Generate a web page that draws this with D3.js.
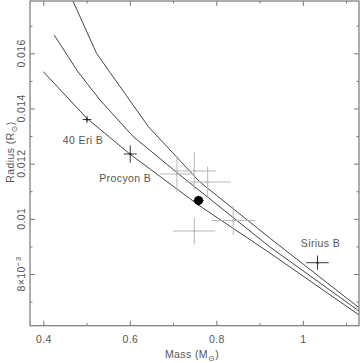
<!DOCTYPE html>
<html>
<head>
<meta charset="utf-8">
<script src="https://cdn.jsdelivr.net/npm/d3@7"></script>
<style>
  body { margin: 0; background: #fff; }
  text { font-family: "Liberation Sans", Arial, "DejaVu Sans", sans-serif; fill: #555; }
</style>
</head>
<body>
<script>
// mass-radius relation, white dwarfs

// model curves (mass in Msun, radius in Rsun)
let curveTopMass = [0.450, 0.523, 0.643, 0.762, 0.924, 1.130]
let curveTopRadius = [0.01854, 0.01600, 0.01334, 0.011335, 0.00930, 0.006778]
let curveMidMass = [0.425, 0.480, 0.531, 0.608, 0.716, 0.924, 1.130]
let curveMidRadius = [0.016665, 0.015334, 0.014308, 0.012978, 0.011589, 0.008979, 0.006659]
let curveLowMass = [0.400, 0.501, 0.600, 0.762, 0.924, 1.130]
let curveLowRadius = [0.015334, 0.013637, 0.012351, 0.010465, 0.008761, 0.006514]

// labelled stars
let starNames = ['40 Eri B', 'Procyon B', 'Sirius B']
let starMass = [0.501, 0.601, 1.034]
let starMassErr = [0.010, 0.015, 0.026]
let starRadius = [0.01360, 0.01235, 0.00841]
let starRadiusErr = [0.00013, 0.00031, 0.00026]

// new measurement (big dot)
let newMass = [0.759]
let newMassErr = [0.012]
let newRadius = [0.01066]
let newRadiusErr = [0.00018]

// other (grey) stars
let otherMass = [0.709, 0.749, 0.780, 0.839, 0.749]
let otherMassErr = [0.039, 0.051, 0.053, 0.050, 0.049]
let otherRadius = [0.011625, 0.011734, 0.011335, 0.00994, 0.00956]
let otherRadiusErr = [0.00065, 0.00068, 0.00056, 0.00053, 0.00049]

// ticks
let xTicks = [0.4, 0.5, 0.6, 0.7, 0.8, 0.9, 1.0, 1.1]
let xLabelled = [0.4, 0.6, 0.8, 1.0]
let yTicks = [0.007, 0.008, 0.009, 0.010, 0.011, 0.012, 0.013, 0.014, 0.015, 0.016, 0.017]
let yLabelled = [0.008, 0.010, 0.012, 0.014, 0.016]

let W = 360
let H = 363
let pLeft = 30, pRight = 359, pTop = 1, pBottom = 325.7

let svg = d3.select('body').append('svg')
  .attr('width', W)
  .attr('height', H)

let x = d3.scaleLinear().domain([0.3692, 1.1300]).range([pLeft, pRight])
let y = d3.scaleLinear().domain([0.006126, 0.017896]).range([pBottom, pTop])

svg.append('clipPath').attr('id', 'clip')
  .append('rect')
  .attr('x', pLeft).attr('y', pTop)
  .attr('width', pRight - pLeft).attr('height', pBottom - pTop)

let plot = svg.append('g').attr('clip-path', 'url(#clip)')

// curves
let line = d3.line().x(d => x(d[0])).y(d => y(d[1]))
let curves = [
  d3.zip(curveTopMass, curveTopRadius),
  d3.zip(curveMidMass, curveMidRadius),
  d3.zip(curveLowMass, curveLowRadius)
]
plot.selectAll('.curve')
  .data(curves)
  .enter().append('path')
  .attr('class', 'curve')
  .attr('d', line)
  .attr('fill', 'none')
  .attr('stroke', '#444')
  .attr('stroke-width', 1)

// error bar crosses
function crosses (g, ms, me, rs, re, color, width) {
  let data = ms.map((m, i) => ({ m: m, me: me[i], r: rs[i], re: re[i] }))
  let sel = g.append('g').selectAll('g').data(data).enter().append('g')
  sel.append('line')
    .attr('x1', d => x(d.m - d.me)).attr('x2', d => x(d.m + d.me))
    .attr('y1', d => y(d.r)).attr('y2', d => y(d.r))
    .attr('stroke', color).attr('stroke-width', width)
  sel.append('line')
    .attr('x1', d => x(d.m)).attr('x2', d => x(d.m))
    .attr('y1', d => y(d.r - d.re)).attr('y2', d => y(d.r + d.re))
    .attr('stroke', color).attr('stroke-width', width)
  sel.append('circle')
    .attr('cx', d => x(d.m)).attr('cy', d => y(d.r))
    .attr('r', 1.2)
    .attr('fill', color)
  return sel
}

crosses(plot, otherMass, otherMassErr, otherRadius, otherRadiusErr, '#b8b8b8', 1)
crosses(plot, starMass, starMassErr, starRadius, starRadiusErr, '#222', 0.9)
crosses(plot, newMass, newMassErr, newRadius, newRadiusErr, '#222', 0.9)
plot.append('g').selectAll('circle')
  .data(newMass)
  .enter().append('circle')
  .attr('cx', d => x(d))
  .attr('cy', (d, i) => y(newRadius[i]))
  .attr('r', 4.6)
  .attr('fill', '#000')

// star labels
let labelOffsets = [[-4, 24], [-5, 28], [3, -16]]
svg.append('g').selectAll('text')
  .data(starNames)
  .enter().append('text')
  .attr('x', (d, i) => x(starMass[i]) + labelOffsets[i][0])
  .attr('y', (d, i) => y(starRadius[i]) + labelOffsets[i][1])
  .attr('text-anchor', 'middle')
  .attr('font-size', 10.5)
  .attr('letter-spacing', 0.4)
  .text(d => d)

// axes (ticks pointing inward, mirrored on top/right)
let axisColor = '#777'
function styleAxis (g, labelled, minorLen, dir) {
  g.select('.domain').remove()
  g.selectAll('.tick line').attr('stroke', axisColor)
    .each(function (d) {
      if (labelled.indexOf(d) < 0) {
        let el = d3.select(this)
        if (dir === 'x') el.attr('y2', minorLen)
        else el.attr('x2', minorLen)
      }
    })
}

let fmtX = d => xLabelled.indexOf(d) >= 0 ? d3.format('~g')(d) : ''
let gB = svg.append('g').attr('transform', 'translate(0,' + pBottom + ')')
  .call(d3.axisBottom(x).tickValues(xTicks).tickSize(-5).tickPadding(10).tickFormat(fmtX))
styleAxis(gB, xLabelled, -2.5, 'x')
gB.selectAll('text').attr('font-size', 10.5).attr('fill', '#555').attr('font-family', null).attr('letter-spacing', 0.4)

let gT = svg.append('g').attr('transform', 'translate(0,' + pTop + ')')
  .call(d3.axisTop(x).tickValues(xTicks).tickSize(-5).tickFormat(''))
styleAxis(gT, xLabelled, 2.5, 'x')

let gL = svg.append('g').attr('transform', 'translate(' + pLeft + ',0)')
  .call(d3.axisLeft(y).tickValues(yTicks).tickSize(-5).tickFormat(''))
styleAxis(gL, yLabelled, 2.5, 'y')

let gR = svg.append('g').attr('transform', 'translate(' + pRight + ',0)')
  .call(d3.axisRight(y).tickValues(yTicks).tickSize(-5).tickFormat(''))
styleAxis(gR, yLabelled, -2.5, 'y')

// rotated y tick labels
let yLab = svg.append('g').selectAll('text')
  .data(yLabelled)
  .enter().append('text')
  .attr('transform', d => 'translate(' + (pLeft - 5.5) + ',' + y(d) + ') rotate(-90)')
  .attr('text-anchor', 'middle')
  .attr('font-size', 10.5)
  .attr('letter-spacing', 0.4)
yLab.each(function (d) {
  let t = d3.select(this)
  if (d < 0.009) {
    t.append('tspan').text('8×10')
    t.append('tspan').attr('dy', -4).attr('font-size', 8).text('−3')
  } else {
    t.text(d3.format('~g')(d))
  }
})

// frame
svg.append('rect')
  .attr('x', pLeft).attr('y', pTop)
  .attr('width', pRight - pLeft).attr('height', pBottom - pTop)
  .attr('fill', 'none')
  .attr('stroke', axisColor)
  .attr('stroke-width', 1.2)

// axis titles
let xt = svg.append('text')
  .attr('x', 192).attr('y', 358)
  .attr('text-anchor', 'middle')
  .attr('font-size', 10.5)
  .attr('letter-spacing', 0.4)
xt.append('tspan').text('Mass (M')
xt.append('tspan').attr('dy', 2.5).attr('font-size', 8).text('⊙')
xt.append('tspan').attr('dy', -2.5).text(')')

let yt = svg.append('text')
  .attr('transform', 'translate(14,152) rotate(-90)')
  .attr('text-anchor', 'middle')
  .attr('font-size', 10.5)
  .attr('letter-spacing', 0.4)
yt.append('tspan').text('Radius (R')
yt.append('tspan').attr('dy', 2.5).attr('font-size', 8).text('⊙')
yt.append('tspan').attr('dy', -2.5).text(')')
</script>
</body>
</html>
